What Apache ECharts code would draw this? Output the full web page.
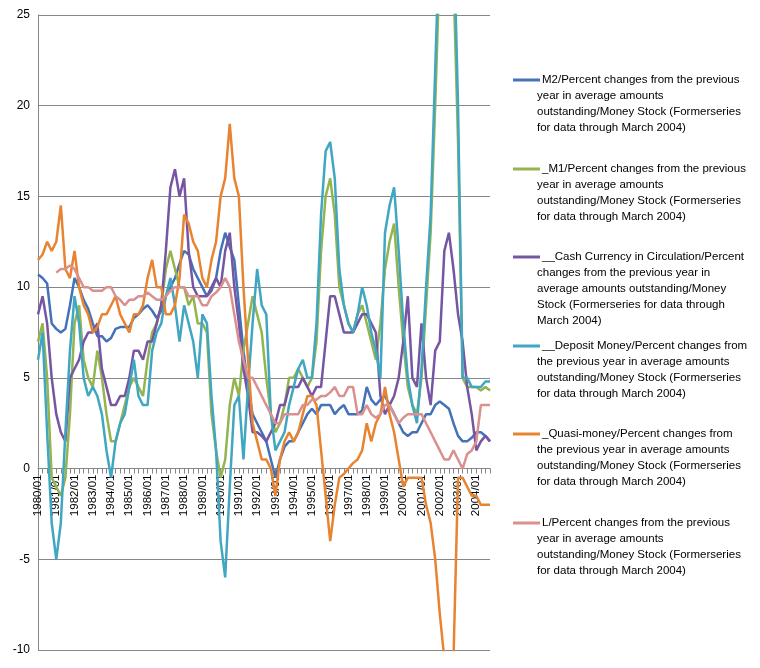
<!DOCTYPE html>
<html>
<head>
<meta charset="utf-8">
<script src="https://cdn.jsdelivr.net/npm/echarts@6/dist/echarts.min.js"></script>
<style>
  html, body { margin: 0; padding: 0; background: #fff; }
  #chart { width: 760px; height: 668px; }
</style>
</head>
<body>
<div id="chart"></div>
<script>
// quarterly categories 1980/01 .. 2004/10
const years = []
for (let y = 1980; y <= 2004; y++) years.push(y)
const categories = []
years.forEach(y => ['01', '04', '07', '10'].forEach(m => categories.push(y + '/' + m)))

const m2 = [
    10.7, 10.5, 10.2, 8.0, 7.7, 7.5, 7.7, 9.0, 10.5, 10.0, 9.3, 8.8, 8.0, 7.3, 7.3, 7.0,
    7.2, 7.7, 7.8, 7.8, 7.8, 8.3, 8.5, 8.8, 9.0, 8.7, 8.3, 8.7, 9.5, 10.0, 10.5, 11.3,
    12.0, 11.8, 11.0, 10.5, 10.0, 9.5, 9.8, 10.5, 12.0, 13.0, 12.2, 11.5, 9.0, 6.5, 4.5, 3.0,
    2.5, 2.0, 1.5, 0.5, -0.5, 0.5, 1.2, 1.5, 1.5, 2.0, 2.5, 3.0, 3.3, 3.0, 3.5, 3.5,
    3.5, 3.0, 3.3, 3.5, 3.0, 3.0, 3.0, 3.2, 4.5, 3.8, 3.5, 3.8, 4.0, 3.5, 3.0, 2.5,
    2.0, 1.8, 2.0, 2.0, 2.5, 3.0, 3.0, 3.5, 3.7, 3.5, 3.3, 2.5, 1.8, 1.5, 1.5, 1.7,
    2.0, 2.0, 1.8, 1.5
]
const m1 = [
    7.0, 8.0, 5.0, -0.5, -1.0, -1.5, -0.5, 3.0, 8.0, 9.0, 6.0, 5.0, 4.5, 6.5, 5.0, 3.0,
    1.5, 1.5, 2.5, 3.5, 4.5, 5.0, 4.5, 4.0, 6.0, 7.5, 8.0, 9.0, 11.0, 12.0, 11.0, 10.0,
    10.0, 9.0, 9.5, 8.0, 8.0, 7.5, 3.0, 1.0, -0.5, 0.5, 3.5, 5.0, 4.0, 6.5, 8.0, 9.5,
    8.5, 7.5, 5.0, 3.0, 2.0, 2.5, 3.5, 5.0, 5.0, 5.5, 5.0, 4.5, 5.0, 7.0, 12.0, 15.0,
    16.0, 14.0, 10.0, 9.0, 8.0, 7.5, 8.5, 9.0, 8.0, 7.0, 6.0, 8.0, 11.0, 12.5, 13.5, 10.0,
    7.0, 4.5, 3.5, 3.0, 5.0, 9.0, 13.0, 20.0, 28.0, 30.0, 30.0, 27.0, 18.0, 5.0, 4.5, 4.5,
    4.5, 4.3, 4.5, 4.3
]
const cash = [
    8.5, 9.5, 8.0, 5.0, 3.0, 2.0, 1.5, 5.0, 5.5, 6.0, 7.0, 7.5, 7.5, 8.0, 5.5, 4.5,
    3.5, 3.5, 4.0, 4.0, 5.0, 6.5, 6.5, 6.0, 7.0, 7.0, 8.0, 9.0, 12.0, 15.5, 16.5, 15.0,
    16.0, 12.0, 10.0, 9.5, 9.5, 9.5, 10.0, 10.5, 10.0, 12.0, 13.0, 10.0, 8.0, 5.5, 4.0, 2.0,
    2.0, 1.8, 1.5, 2.0, 2.5, 3.5, 3.5, 4.5, 4.5, 4.5, 5.0, 4.5, 4.0, 4.5, 4.5, 7.0,
    9.5, 9.5, 8.5, 7.5, 7.5, 7.5, 8.0, 8.5, 8.5, 8.0, 7.5, 4.0, 3.0, 3.5, 4.0, 5.0,
    7.0, 9.5, 5.0, 4.5, 8.0, 5.0, 3.5, 6.5, 7.0, 12.0, 13.0, 11.0, 8.5, 7.0, 4.5, 3.0,
    1.0, 1.5, 1.8, 1.5
]
const deposit = [
    6.0, 7.5, 2.0, -3.0, -5.0, -3.0, 2.0, 6.5, 9.5, 8.0, 5.0, 4.0, 4.5, 4.0, 3.0, 1.0,
    -0.5, 1.5, 2.5, 3.0, 4.5, 6.0, 4.0, 3.5, 3.5, 6.5, 7.5, 8.0, 9.5, 10.5, 9.0, 7.0,
    9.0, 8.0, 7.0, 5.0, 8.5, 8.0, 4.0, 1.0, -4.0, -6.0, -1.0, 3.5, 4.0, 0.5, 4.5, 8.0,
    11.0, 9.0, 8.5, 3.0, 1.0, 1.5, 2.0, 3.5, 4.5, 5.5, 6.0, 5.0, 5.0, 8.0, 14.0, 17.5,
    18.0, 16.0, 11.0, 9.0, 8.0, 7.5, 8.5, 10.0, 9.0, 7.5, 6.5, 5.0, 13.0, 14.5, 15.5, 12.0,
    8.0, 5.0, 3.5, 2.5, 5.5, 10.0, 14.0, 22.0, 30.0, 32.0, 32.0, 30.0, 20.0, 5.0, 5.0, 4.5,
    4.5, 4.5, 4.8, 4.8
]
const quasi = [
    11.5, 11.8, 12.5, 12.0, 12.5, 14.5, 11.0, 10.5, 12.0, 10.0, 9.0, 8.5, 7.5, 7.8, 8.5, 8.5,
    9.0, 9.5, 8.5, 8.0, 7.5, 8.5, 8.5, 9.0, 10.5, 11.5, 10.0, 10.0, 8.5, 8.5, 9.0, 10.5,
    14.0, 13.5, 12.5, 12.0, 10.5, 10.0, 11.5, 12.5, 15.0, 16.0, 19.0, 16.0, 15.0, 10.0, 6.0, 2.5,
    1.5, 0.5, 0.5, 0.0, -1.5, 0.5, 1.5, 2.0, 1.5, 2.0, 3.0, 4.0, 4.0, 3.5, 1.0, -1.5,
    -4.0, -2.0, -0.5, -0.3, 0.0, 0.3, 0.5, 1.0, 2.5, 1.5, 2.5, 3.0, 4.5, 3.0, 2.0, 0.5,
    -1.0, -0.5, -0.5, -0.5, -0.5, -2.0, -3.0, -5.0, -8.0, -10.5, -11.0, -10.5, -0.5, -0.5, -1.0, -1.5,
    -1.5, -2.0, -2.0, -2.0
]
const lTotal = [
    null, null, null, null, 10.8, 11.0, 11.0, 11.2, 11.0, 10.5, 10.0, 10.0, 9.8, 9.8, 9.8, 10.0,
    10.0, 9.5, 9.3, 9.0, 9.3, 9.3, 9.5, 9.5, 9.7, 9.5, 9.3, 9.3, 9.5, 9.8, 10.0, 10.0,
    10.0, 9.5, 9.5, 9.5, 9.0, 9.0, 9.5, 9.7, 10.0, 10.5, 10.0, 8.5, 7.0, 6.0, 5.0, 5.0,
    4.5, 4.0, 3.5, 3.0, 2.5, 2.5, 3.0, 3.0, 3.0, 3.0, 3.5, 3.5, 3.8, 3.8, 4.0, 4.0,
    4.2, 4.5, 4.0, 4.0, 4.5, 4.5, 3.0, 3.0, 3.5, 3.0, 2.8, 3.0, 3.5, 3.5, 3.0, 2.5,
    2.8, 3.0, 3.0, 3.0, 3.0, 2.5, 2.0, 1.5, 1.0, 0.5, 0.5, 1.0, 0.5, 0.0, 0.8, 1.0,
    1.5, 3.5, 3.5, 3.5
]

const seriesNames = [
    'M2/Percent changes from the previous year in average amounts outstanding/Money Stock (Formerseries for data through March 2004)',
    '_M1/Percent changes from the previous year in average amounts outstanding/Money Stock (Formerseries for data through March 2004)',
    '__Cash Currency in Circulation/Percent changes from the previous year in average amounts outstanding/Money Stock (Formerseries for data through March 2004)',
    '__Deposit Money/Percent changes from the previous year in average amounts outstanding/Money Stock (Formerseries for data through March 2004)',
    '_Quasi-money/Percent changes from the previous year in average amounts outstanding/Money Stock (Formerseries for data through March 2004)',
    'L/Percent changes from the previous year in average amounts outstanding/Money Stock (Formerseries for data through March 2004)'
]
const legendLines = [
    ['M2/Percent changes from the previous', 'year in average amounts', 'outstanding/Money Stock (Formerseries', 'for data through March 2004)'],
    ['_M1/Percent changes from the previous', 'year in average amounts', 'outstanding/Money Stock (Formerseries', 'for data through March 2004)'],
    ['__Cash Currency in Circulation/Percent', 'changes from the previous year in', 'average amounts outstanding/Money', 'Stock (Formerseries for data through', 'March 2004)'],
    ['__Deposit Money/Percent changes from', 'the previous year in average amounts', 'outstanding/Money Stock (Formerseries', 'for data through March 2004)'],
    ['_Quasi-money/Percent changes from', 'the previous year in average amounts', 'outstanding/Money Stock (Formerseries', 'for data through March 2004)'],
    ['L/Percent changes from the previous', 'year in average amounts', 'outstanding/Money Stock (Formerseries', 'for data through March 2004)']
]
const legendTops = [79, 168, 256, 345, 433, 522]
const colors = ['#4472b8', '#93b44f', '#7655a3', '#40a6c2', '#e8842f', '#d9908f']
const allData = [m2, m1, cash, deposit, quasi, lTotal]

const font = 'Liberation Sans, Arial, sans-serif'
const chart = echarts.init(document.getElementById('chart'))

// y of value 0 inside the grid, used to put the year labels on the zero line
const gridTop = 15, gridBottom = 18, yMin = -10, yMax = 25
const plotH = 668 - gridTop - gridBottom
const zeroFromBottom = plotH * (0 - yMin) / (yMax - yMin)

const legends = seriesNames.map((name, i) => ({
    data: [name],
    left: 508,
    top: legendTops[i] - 10,
    itemWidth: 27,
    itemHeight: 3,
    itemGap: 2,
    icon: 'rect',
    selectedMode: false,
    formatter: () => legendLines[i][0],
    textStyle: { fontFamily: font, fontSize: 11.5, color: '#000', padding: [0, 0, 0, -3] }
}))

const graphics = []
legendLines.forEach((lines, i) => {
    lines.slice(1).forEach((t, j) => {
        graphics.push({
            type: 'text',
            left: 537,
            top: legendTops[i] - 5 + (j + 1) * 16,
            style: { text: t, font: '11.5px ' + font, fill: '#000' }
        })
    })
})

chart.setOption({
    animation: false,
    color: colors,
    grid: { left: 38, right: 270, top: gridTop, bottom: gridBottom, containLabel: false },
    legend: legends,
    graphic: graphics,
    xAxis: [{
        type: 'category',
        data: categories,
        boundaryGap: false,
        axisLine: { onZero: true, lineStyle: { color: '#868686' } },
        axisTick: { interval: 0, length: 5, lineStyle: { color: '#868686' } },
        axisLabel: { show: false },
        splitLine: { show: false }
    }, {
        type: 'category',
        data: categories,
        position: 'bottom',
        offset: -zeroFromBottom,
        boundaryGap: false,
        axisLine: { show: false },
        axisTick: { show: false },
        axisLabel: {
            interval: (idx) => idx % 4 === 0,
            rotate: 90,
            fontFamily: font,
            fontSize: 11.5,
            color: '#000',
            margin: 6
        },
        splitLine: { show: false }
    }],
    yAxis: {
        type: 'value',
        min: yMin,
        max: yMax,
        interval: 5,
        axisLine: { show: true, lineStyle: { color: '#868686' } },
        axisTick: { show: false },
        axisLabel: { fontFamily: font, fontSize: 12, color: '#000', margin: 8 },
        splitLine: { lineStyle: { color: '#868686' } }
    },
    series: seriesNames.map((name, i) => ({
        name: name,
        type: 'line',
        data: allData[i],
        showSymbol: false,
        lineStyle: { width: 2.5 },
        clip: true
    }))
})
</script>
</body>
</html>
